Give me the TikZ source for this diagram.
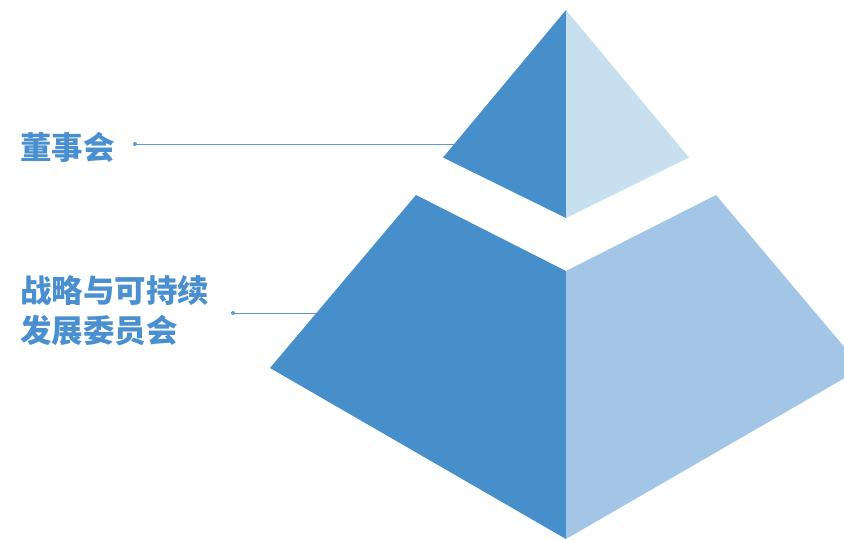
\documentclass[tikz,border=0pt]{standalone}
\usepackage{fontspec}
\newfontfamily\cjk{Noto Sans CJK SC}
\definecolor{darkblue}{HTML}{468FCB}
\definecolor{paleblue}{HTML}{C8DFF0}
\definecolor{midblue}{HTML}{A3C6E6}
\definecolor{textblue}{HTML}{4A90D0}
\definecolor{lineblue}{HTML}{5B9BD5}
\begin{document}
\begin{tikzpicture}[x=1pt,y=-1pt,
  label/.style={anchor=west,inner sep=0pt,text=textblue,font=\cjk\bfseries\fontsize{31.5}{40}\selectfont,align=left},
  dotnode/.style={circle,fill=lineblue,inner sep=0pt,minimum size=4pt},
  leader/.style={draw=lineblue,line width=1pt}]
\useasboundingbox (0,0) rectangle (844,539);
\clip (0,0) rectangle (844,539);
% labels
\node[label] (t1) at (20,147.5) {董事会};
\node[label] (t2) at (20,311) {战略与可持续\\发展委员会};
% dots and leaders
\node[dotnode] (d1) at (135,144) {};
\coordinate (e1) at (470,144);
\node[dotnode] (d2) at (233,313) {};
\coordinate (e2) at (330,313);
\draw[leader] (d1.center) -- (e1);
\draw[leader] (d2.center) -- (e2);
% top pyramid
\fill[darkblue] (566,10) -- (443,157.5) -- (566,218) -- cycle;
\fill[paleblue] (566,10) -- (689,157.5) -- (566,218) -- cycle;
% bottom frustum
\fill[darkblue] (416,195) -- (566,271) -- (566,539) -- (270,368) -- cycle;
\fill[midblue] (716,195) -- (566,271) -- (566,539) -- (862,368) -- cycle;
\end{tikzpicture}
\end{document}
